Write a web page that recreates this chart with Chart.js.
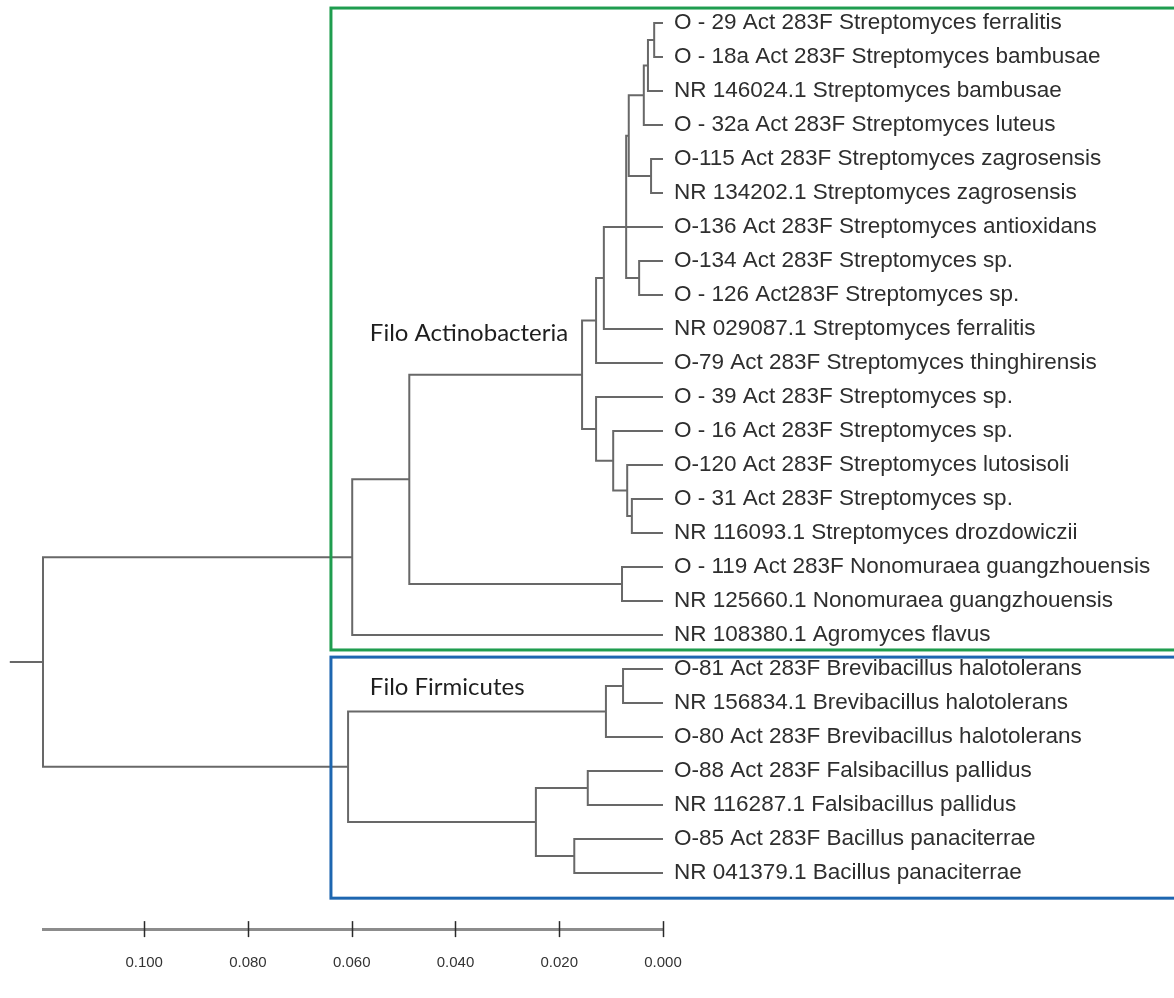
<!DOCTYPE html>
<html lang="es">
<head>
<meta charset="UTF-8">
<title>Árbol filogenético</title>
<script src="https://cdn.jsdelivr.net/npm/chart.js"></script>
<style>
  html, body { margin: 0; padding: 0; background: #fff; }
  #treeChart { display: block; }
</style>
</head>
<body>
<canvas id="treeChart" width="1174" height="998"></canvas>
<script>
// Leaf labels, top to bottom
const leafNames = [
  'O - 29 Act 283F Streptomyces ferralitis',
  'O - 18a Act 283F Streptomyces bambusae',
  'NR 146024.1 Streptomyces bambusae',
  'O - 32a Act 283F Streptomyces luteus',
  'O-115 Act 283F Streptomyces zagrosensis',
  'NR 134202.1 Streptomyces zagrosensis',
  'O-136 Act 283F Streptomyces antioxidans',
  'O-134 Act 283F Streptomyces sp.',
  'O - 126 Act283F Streptomyces sp.',
  'NR 029087.1 Streptomyces ferralitis',
  'O-79 Act 283F Streptomyces thinghirensis',
  'O - 39 Act 283F Streptomyces sp.',
  'O - 16 Act 283F Streptomyces sp.',
  'O-120 Act 283F Streptomyces lutosisoli',
  'O - 31 Act 283F Streptomyces sp.',
  'NR 116093.1 Streptomyces drozdowiczii',
  'O - 119 Act 283F Nonomuraea guangzhouensis',
  'NR 125660.1 Nonomuraea guangzhouensis',
  'NR 108380.1 Agromyces flavus',
  'O-81 Act 283F Brevibacillus halotolerans',
  'NR 156834.1 Brevibacillus halotolerans',
  'O-80 Act 283F Brevibacillus halotolerans',
  'O-88 Act 283F Falsibacillus pallidus',
  'NR 116287.1 Falsibacillus pallidus',
  'O-85 Act 283F Bacillus panaciterrae',
  'NR 041379.1 Bacillus panaciterrae'
];

// Internal nodes (children first): distance from the tips and children
// (numbers are leaf indices, strings are other nodes)
const nodeNames = ['n1', 'n2', 'n3', 'n4', 'n5', 'n6', 'n7', 'n8', 'n9', 'n10', 'n11', 'n12',
  'n13', 'n14', 'n15', 'n16', 'n17', 'n18', 'n19', 'n20', 'n21', 'n22', 'n23', 'root'];
const nodeDepths = [0.0017, 0.0029, 0.0037, 0.0023, 0.0066, 0.0046, 0.0071, 0.0114, 0.0129, 0.0060, 0.0069, 0.0096,
  0.0129, 0.0156, 0.0079, 0.0489, 0.0599, 0.0077, 0.0110, 0.0145, 0.0171, 0.0245, 0.0607, 0.1195];
const nodeChildren = [
  [0, 1], ['n1', 2], ['n2', 3], [4, 5], ['n3', 'n4'], [7, 8], ['n5', 6, 'n6'], ['n7', 9], ['n8', 10],
  [14, 15], [13, 'n10'], [12, 'n11'], [11, 'n12'], ['n9', 'n13'], [16, 17], ['n14', 'n15'], ['n16', 18],
  [19, 20], ['n18', 21], [22, 23], [24, 25], ['n20', 'n21'], ['n19', 'n22'], ['n17', 'n23']
];
const rootBranch = 0.0064;

// Scale bar ticks
const scaleTicks = [0.000, 0.020, 0.040, 0.060, 0.080, 0.100];

// Clade names
const cladeLabels = ['Filo Actinobacteria', 'Filo Firmicutes'];

// Node layout: leaves sit on their row, parents between first and last child
// (a node with an odd number of children sits on its middle child)
const depth = {}, row = {};
leafNames.forEach((n, i) => { depth[i] = 0; row[i] = i; });
nodeNames.forEach((name, k) => {
  const rows = nodeChildren[k].map(c => row[c]);
  depth[name] = nodeDepths[k];
  row[name] = rows.length % 2 ? rows[(rows.length - 1) / 2] : (rows[0] + rows[rows.length - 1]) / 2;
});

// Elbow segments, separated by null points
const treePoints = [];
nodeNames.forEach((name, k) => {
  const kids = nodeChildren[k], h = depth[name];
  const first = kids[0], last = kids[kids.length - 1];
  treePoints.push(
    { x: depth[first], y: row[first] }, { x: h, y: row[first] },
    { x: h, y: row[last] }, { x: depth[last], y: row[last] },
    { x: null, y: null }
  );
  kids.slice(1, -1).forEach(c => {
    treePoints.push({ x: h, y: row[c] }, { x: depth[c], y: row[c] }, { x: null, y: null });
  });
});
treePoints.push({ x: depth.root + rootBranch, y: row.root }, { x: depth.root, y: row.root });

const axisRow = 26.65;

const cladeBoxes = {
  id: 'cladeBoxes',
  afterDatasetsDraw(chart, args, opts) {
    const { ctx, scales: { x, y } } = chart;
    ctx.save();
    opts.boxes.forEach((b, i) => {
      const left = x.getPixelForValue(b.left);
      const top = y.getPixelForValue(b.top);
      const bottom = y.getPixelForValue(b.bottom);
      ctx.strokeStyle = b.color;
      ctx.lineWidth = 3;
      ctx.strokeRect(left, top, chart.width + 10 - left, bottom - top);
      ctx.fillStyle = '#1e1e1e';
      ctx.font = '24px Lato, "Open Sans", sans-serif';
      ctx.textAlign = 'left';
      ctx.textBaseline = 'middle';
      ctx.fillText(cladeLabels[i], x.getPixelForValue(b.textX), y.getPixelForValue(b.textY));
    });
    ctx.restore();
  }
};

// tick marks that cross the scale bar
const crossTicks = {
  id: 'crossTicks',
  afterDraw(chart) {
    const { ctx, scales: { x, y } } = chart;
    const py = y.getPixelForValue(axisRow);
    ctx.save();
    ctx.strokeStyle = '#2a2a2a';
    ctx.lineWidth = 1.5;
    x.ticks.forEach(t => {
      const px = Math.round(x.getPixelForValue(t.value)) + 0.5;
      ctx.beginPath();
      ctx.moveTo(px, py - 8);
      ctx.lineTo(px, py + 8);
      ctx.stroke();
    });
    ctx.restore();
  }
};

new Chart(document.getElementById('treeChart'), {
  type: 'scatter',
  data: {
    datasets: [{
      data: treePoints,
      showLine: true,
      spanGaps: false,
      borderColor: '#686868',
      borderWidth: 2,
      borderJoinStyle: 'miter',
      pointRadius: 0,
      pointHoverRadius: 0,
      clip: false
    }]
  },
  options: {
    responsive: false,
    animation: false,
    events: [],
    layout: { padding: { left: 43, top: 0, right: 0, bottom: 0 } },
    plugins: {
      legend: { display: false },
      tooltip: { enabled: false },
      cladeBoxes: {
        boxes: [
          { color: '#1f9d4f', left: 0.0640, top: -0.44, bottom: 18.44, textX: 0.0565, textY: 9.12 },
          { color: '#1d66b0', left: 0.0640, top: 18.65, bottom: 25.74, textX: 0.0565, textY: 19.53 }
        ]
      }
    },
    scales: {
      x: {
        type: 'linear',
        reverse: true,
        min: 0,
        max: nodeDepths[nodeDepths.length - 1],
        position: { y: axisRow },
        grid: { display: false, drawTicks: false },
        border: { display: true, color: '#8c8c8c', width: 3 },
        afterBuildTicks: s => { s.ticks = scaleTicks.map(v => ({ value: v })); },
        afterFit: s => { s.paddingLeft = 0; s.paddingRight = 0; },
        ticks: {
          autoSkip: false,
          maxRotation: 0,
          padding: 25,
          color: '#333',
          font: { family: '"Liberation Sans", Arial, sans-serif', size: 15 },
          callback: v => v.toFixed(3)
        }
      },
      y: {
        type: 'linear',
        position: 'right',
        reverse: true,
        min: -0.6765,
        max: 28.676,
        grid: { display: false, drawTicks: false },
        border: { display: false },
        afterBuildTicks: s => { s.ticks = leafNames.map((n, i) => ({ value: i })); },
        afterFit: s => { s.width = 511; s.paddingTop = 0; s.paddingBottom = 0; },
        ticks: {
          autoSkip: false,
          padding: 11,
          color: '#2e2e2e',
          font: { family: '"Liberation Sans", Arial, sans-serif', size: 22.5 },
          callback: v => leafNames[v]
        }
      }
    }
  },
  plugins: [cladeBoxes, crossTicks]
});
</script>
</body>
</html>
